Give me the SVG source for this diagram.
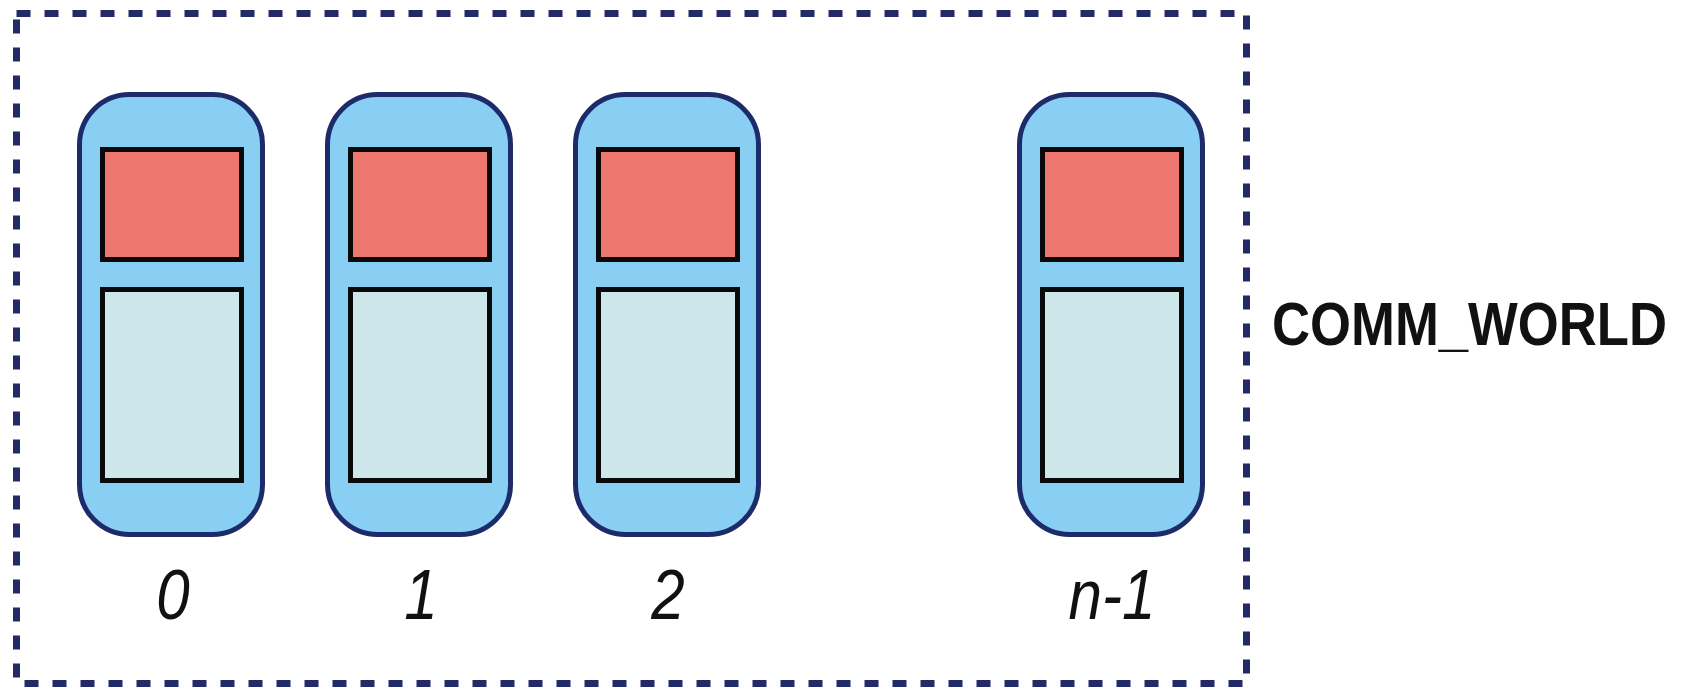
<svg xmlns="http://www.w3.org/2000/svg" width="1693" height="687" viewBox="0 0 1693 687">
  <style>
    .frame { fill: none; stroke: #222a68; stroke-width: 7; stroke-dasharray: 14 14; }
    .proc { fill: #88cff3; stroke: #1d2b6b; stroke-width: 5; }
    .top { fill: #ee7870; stroke: #0a0a0a; stroke-width: 5; }
    .bot { fill: #cde6ea; stroke: #0a0a0a; stroke-width: 5; }
    .rank { font-family: "Liberation Sans", Arial, sans-serif; font-style: italic; font-size: 70px; fill: #111; text-anchor: middle; }
    .title { font-family: "Liberation Sans", Arial, sans-serif; font-weight: bold; font-size: 62px; fill: #111; }
  </style>
  <defs>
    <g id="procShape">
      <rect class="proc" x="79.5" y="94.5" width="183" height="440" rx="50" ry="50"/>
      <rect class="top" x="102.5" y="149.5" width="139" height="110"/>
      <rect class="bot" x="102.5" y="289.5" width="139" height="191"/>
    </g>
  </defs>
  <rect width="1693" height="687" fill="#ffffff"/>
  <g id="connectors"/>
  <g id="comm_world">
    <rect class="frame" x="16.5" y="13.5" width="1230" height="670"/>
    <text class="title" transform="translate(1272,345) scale(0.85,1)" x="0" y="0">COMM_WORLD</text>
  </g>
  <g id="rank0">
    <use href="#procShape"/>
    <text class="rank" transform="translate(173,619) scale(0.86,1)" x="0" y="0">0</text>
  </g>
  <g id="rank1">
    <use href="#procShape" transform="translate(248,0)"/>
    <text class="rank" transform="translate(421,619) scale(0.86,1)" x="0" y="0">1</text>
  </g>
  <g id="rank2">
    <use href="#procShape" transform="translate(496,0)"/>
    <text class="rank" transform="translate(668,619) scale(0.86,1)" x="0" y="0">2</text>
  </g>
  <g id="rankN">
    <use href="#procShape" transform="translate(940,0)"/>
    <text class="rank" transform="translate(1112,619) scale(0.86,1)" x="0" y="0">n-1</text>
  </g>
</svg>
